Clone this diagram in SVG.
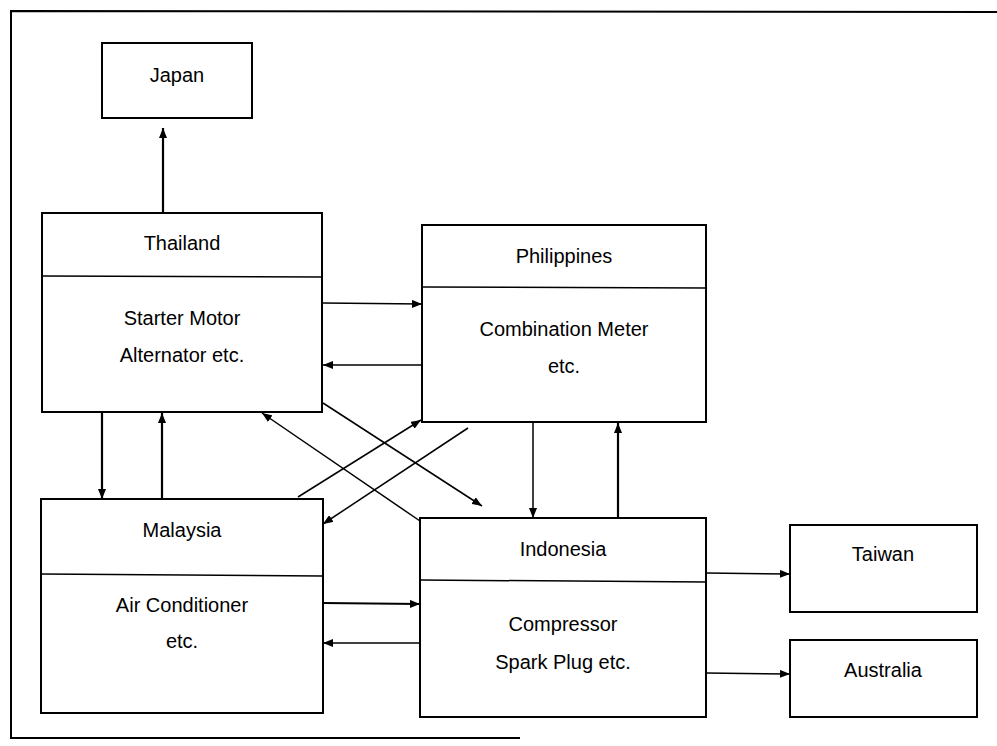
<svg xmlns="http://www.w3.org/2000/svg" width="997" height="746" viewBox="0 0 997 746">
<style>
.box{fill:#fff;stroke:#000;stroke-width:2}
.div{stroke:#000;stroke-width:1.5}
.t{font-family:"Liberation Sans",Arial,sans-serif;font-size:20px;fill:#000;text-anchor:middle}
.c{stroke:#000;stroke-width:1.5;fill:none;marker-end:url(#ah)}
.c2{stroke:#000;stroke-width:2.2;fill:none;marker-end:url(#ah)}
.frame{stroke:#000;stroke-width:2;fill:none}
</style>
<defs>
<marker id="ah" viewBox="0 0 10 8" refX="10" refY="4" markerWidth="10" markerHeight="8" markerUnits="userSpaceOnUse" orient="auto">
<path d="M0,0 L10,4 L0,8 Z" fill="#000"/>
</marker>
</defs>
<rect width="997" height="746" fill="#fff"/>
<g id="frame">
<path class="frame" d="M997,12 L11,11 L11,738 L520,738"/>
</g>
<g id="japan">
<rect class="box" x="102" y="43" width="150" height="75"/>
<text class="t" x="177" y="82">Japan</text>
</g>
<g id="thailand">
<rect class="box" x="42" y="213" width="280" height="199"/>
<line class="div" x1="42" y1="276" x2="322" y2="277"/>
<text class="t" x="182" y="250">Thailand</text>
<text class="t" x="182" y="325">Starter Motor</text>
<text class="t" x="182" y="362">Alternator etc.</text>
</g>
<g id="philippines">
<rect class="box" x="422" y="225" width="284" height="197"/>
<line class="div" x1="422" y1="287" x2="706" y2="288"/>
<text class="t" x="564" y="263">Philippines</text>
<text class="t" x="564" y="336">Combination Meter</text>
<text class="t" x="564" y="373">etc.</text>
</g>
<g id="malaysia">
<rect class="box" x="41" y="499" width="282" height="214"/>
<line class="div" x1="41" y1="574" x2="323" y2="576"/>
<text class="t" x="182" y="537">Malaysia</text>
<text class="t" x="182" y="612">Air Conditioner</text>
<text class="t" x="182" y="648">etc.</text>
</g>
<g id="indonesia">
<rect class="box" x="420" y="518" width="286" height="199"/>
<line class="div" x1="420" y1="580" x2="706" y2="582"/>
<text class="t" x="563" y="556">Indonesia</text>
<text class="t" x="563" y="631">Compressor</text>
<text class="t" x="563" y="669">Spark Plug etc.</text>
</g>
<g id="taiwan">
<rect class="box" x="790" y="525" width="187" height="87"/>
<text class="t" x="883" y="561">Taiwan</text>
</g>
<g id="australia">
<rect class="box" x="790" y="640" width="187" height="77"/>
<text class="t" x="883" y="677">Australia</text>
</g>
<g id="connectors">
<line class="c2" x1="163" y1="213" x2="163" y2="128"/>
<line class="c" x1="323" y1="303" x2="422" y2="304"/>
<line class="c" x1="422" y1="365" x2="323" y2="365"/>
<line class="c2" x1="102" y1="413" x2="102" y2="499"/>
<line class="c2" x1="162" y1="499" x2="162" y2="413"/>
<line class="c" x1="323" y1="403" x2="482" y2="506"/>
<line class="c" x1="420" y1="521" x2="262" y2="413"/>
<line class="c" x1="298" y1="497" x2="421" y2="420"/>
<line class="c" x1="468" y1="428" x2="323" y2="524"/>
<line class="c" x1="533" y1="423" x2="533" y2="518"/>
<line class="c2" x1="618" y1="518" x2="618" y2="423"/>
<line class="c2" x1="323" y1="603" x2="420" y2="604"/>
<line class="c" x1="420" y1="643" x2="323" y2="643"/>
<line class="c" x1="706" y1="573" x2="790" y2="574"/>
<line class="c" x1="706" y1="673" x2="790" y2="674"/>
</g>
</svg>
